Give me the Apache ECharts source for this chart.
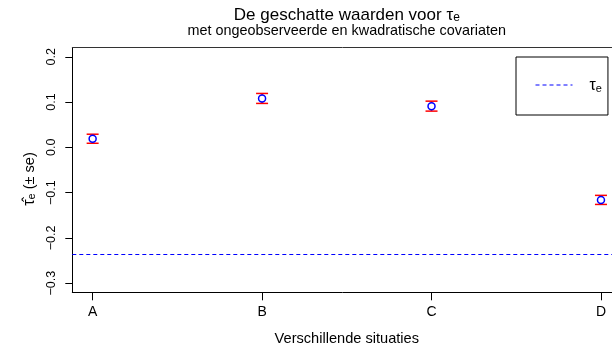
<!DOCTYPE html>
<html>
<head>
<meta charset="utf-8">
<script src="https://cdn.jsdelivr.net/npm/echarts@6/dist/echarts.min.js"></script>
<style>
  html, body { margin: 0; padding: 0; background: #fff; }
  #chart { width: 612px; height: 349px; }
</style>
</head>
<body>
<div id="chart"></div>
<script>
// Situations on the x axis
const categories = ['A', 'B', 'C', 'D'];
// Estimated tau_e per situation and its standard error
const estimates = [0.019, 0.108, 0.091, -0.116];
const stdErrors = [0.010, 0.011, 0.011, 0.010];
// True value of tau_e (dashed reference line)
const trueTau = -0.236;
// Tick values / labels
const yTicks = [-0.3, -0.2, -0.1, 0.0, 0.1, 0.2];
const xTicks = [1, 2, 3, 4];

const FONT = '"Liberation Sans", Arial, Helvetica, sans-serif';
const DASH = [4, 3];

const pointData = categories.map((c, i) => [i + 1, estimates[i]]);
const barData = categories.map((c, i) => [i + 1, estimates[i] - stdErrors[i], estimates[i] + stdErrors[i]]);

const gridLeft = 72.3, gridTop = 47.7, gridW = 549, gridH = 244.6;
const plotCenterX = gridLeft + gridW / 2;

const chart = echarts.init(document.getElementById('chart'), null, { renderer: 'canvas' });

chart.setOption({
  animation: false,
  backgroundColor: '#ffffff',
  textStyle: { fontFamily: FONT },
  grid: {
    left: gridLeft, top: gridTop, width: gridW, height: gridH,
    outerBoundsMode: 'none', containLabel: false, show: false
  },
  graphic: [
    {
      type: 'text', x: plotCenterX, y: 13.5,
      style: {
        text: '{m|De geschatte waarden voor τ}{s|e}',
        align: 'center', verticalAlign: 'middle',
        rich: {
          m: { fontFamily: FONT, fontSize: 17, lineHeight: 20, fill: '#000', verticalAlign: 'bottom' },
          s: { fontFamily: FONT, fontSize: 12, lineHeight: 12, fill: '#000', verticalAlign: 'bottom' }
        }
      }
    },
    {
      type: 'text', x: plotCenterX, y: 31,
      style: {
        text: 'met ongeobserveerde en kwadratische covariaten',
        align: 'center', verticalAlign: 'middle',
        fontFamily: FONT, fontSize: 14.4, fill: '#000'
      }
    }
  ],
  legend: {
    left: 516, top: 57,
    orient: 'vertical',
    borderColor: '#000', borderWidth: 1, borderRadius: 0,
    padding: [21, 6, 21, 19],
    itemWidth: 37, itemHeight: 14, itemGap: 0,
    data: [{ name: 'tauE' }],
    itemStyle: { opacity: 0 },
    lineStyle: { width: 1, type: DASH, color: '#0000ff' },
    formatter: () => '{t|τ}{s|e}',
    textStyle: {
      padding: [0, 0, 0, 12],
      rich: {
        t: { fontFamily: FONT, fontSize: 16, lineHeight: 18, color: '#000', verticalAlign: 'bottom' },
        s: { fontFamily: FONT, fontSize: 11, lineHeight: 11, color: '#000', verticalAlign: 'bottom' }
      }
    }
  },
  xAxis: [
    {
      type: 'value', min: 0.88, max: 4.12,
      name: 'Verschillende situaties', nameLocation: 'middle', nameGap: 39,
      nameTextStyle: { fontFamily: FONT, fontSize: 14.6, color: '#000' },
      splitLine: { show: false },
      axisLine: { show: true, onZero: false, lineStyle: { color: '#000', width: 1 } },
      axisTick: { show: true, length: 8, customValues: xTicks, lineStyle: { color: '#000' } },
      axisLabel: {
        customValues: xTicks, margin: 13,
        formatter: v => categories[Math.round(v) - 1] || '',
        fontFamily: FONT, fontSize: 14, color: '#000'
      }
    },
    {
      // top edge of the plot box
      type: 'value', position: 'top', min: 0.88, max: 4.12,
      splitLine: { show: false },
      axisLine: { show: true, onZero: false, lineStyle: { color: '#333', width: 1 } },
      axisTick: { show: false }, axisLabel: { show: false }
    }
  ],
  yAxis: {
    type: 'value', min: -0.32, max: 0.22,
    name: '{t|τ̂}{s|e}{n| (± se)}', nameLocation: 'middle', nameRotate: 90, nameGap: 34,
    nameTextStyle: {
      padding: [0, 18, 0, 0],
      rich: {
        t: { fontFamily: FONT, fontSize: 16, lineHeight: 20, color: '#000', verticalAlign: 'bottom' },
        s: { fontFamily: FONT, fontSize: 11, lineHeight: 11, color: '#000', verticalAlign: 'bottom' },
        n: { fontFamily: FONT, fontSize: 14.6, lineHeight: 20, color: '#000', verticalAlign: 'bottom' }
      }
    },
    splitLine: { show: false },
    axisLine: { show: true, onZero: false, lineStyle: { color: '#000', width: 1 } },
    axisTick: { show: true, length: 7, customValues: yTicks, lineStyle: { color: '#000' } },
    axisLabel: {
      customValues: yTicks, rotate: 90, margin: 14,
      formatter: v => v.toFixed(1).replace('-', '\u2212'),
      fontFamily: FONT, fontSize: 12.5, color: '#000'
    }
  },
  series: [
    {
      // legend entry for the dashed reference line
      name: 'tauE',
      type: 'line',
      data: [],
      symbol: 'none',
      color: '#0000ff',
      lineStyle: { color: '#0000ff', width: 1, type: DASH }
    },
    {
      // horizontal reference line at the true tau_e, across the full plot width
      name: 'tauLine',
      type: 'custom',
      data: [[trueTau]],
      encode: { y: 0 },
      renderItem: function (params, api) {
        const cs = params.coordSys;
        const y = Math.round(api.coord([1, api.value(0)])[1]) + 0.5;
        return {
          type: 'line',
          shape: { x1: cs.x, y1: y, x2: cs.x + cs.width, y2: y },
          style: { stroke: '#0000ff', lineWidth: 1, lineDash: DASH }
        };
      },
      z: 1
    },
    {
      name: 'se',
      type: 'custom',
      data: barData,
      renderItem: function (params, api) {
        const x = api.value(0);
        const lo = api.coord([x, api.value(1)]);
        const hi = api.coord([x, api.value(2)]);
        const hw = 6;
        const st = { stroke: '#ff0000', lineWidth: 1.5 };
        return {
          type: 'group',
          children: [
            { type: 'line', shape: { x1: lo[0], y1: lo[1], x2: hi[0], y2: hi[1] }, style: st },
            { type: 'line', shape: { x1: lo[0] - hw, y1: lo[1], x2: lo[0] + hw, y2: lo[1] }, style: st },
            { type: 'line', shape: { x1: hi[0] - hw, y1: hi[1], x2: hi[0] + hw, y2: hi[1] }, style: st }
          ]
        };
      },
      z: 2
    },
    {
      name: 'estimate',
      type: 'scatter',
      data: pointData,
      symbol: 'circle',
      symbolSize: 7,
      itemStyle: { color: '#ffffff', borderColor: '#0000ff', borderWidth: 1.5, opacity: 1 },
      z: 3
    }
  ]
});
</script>
</body>
</html>
